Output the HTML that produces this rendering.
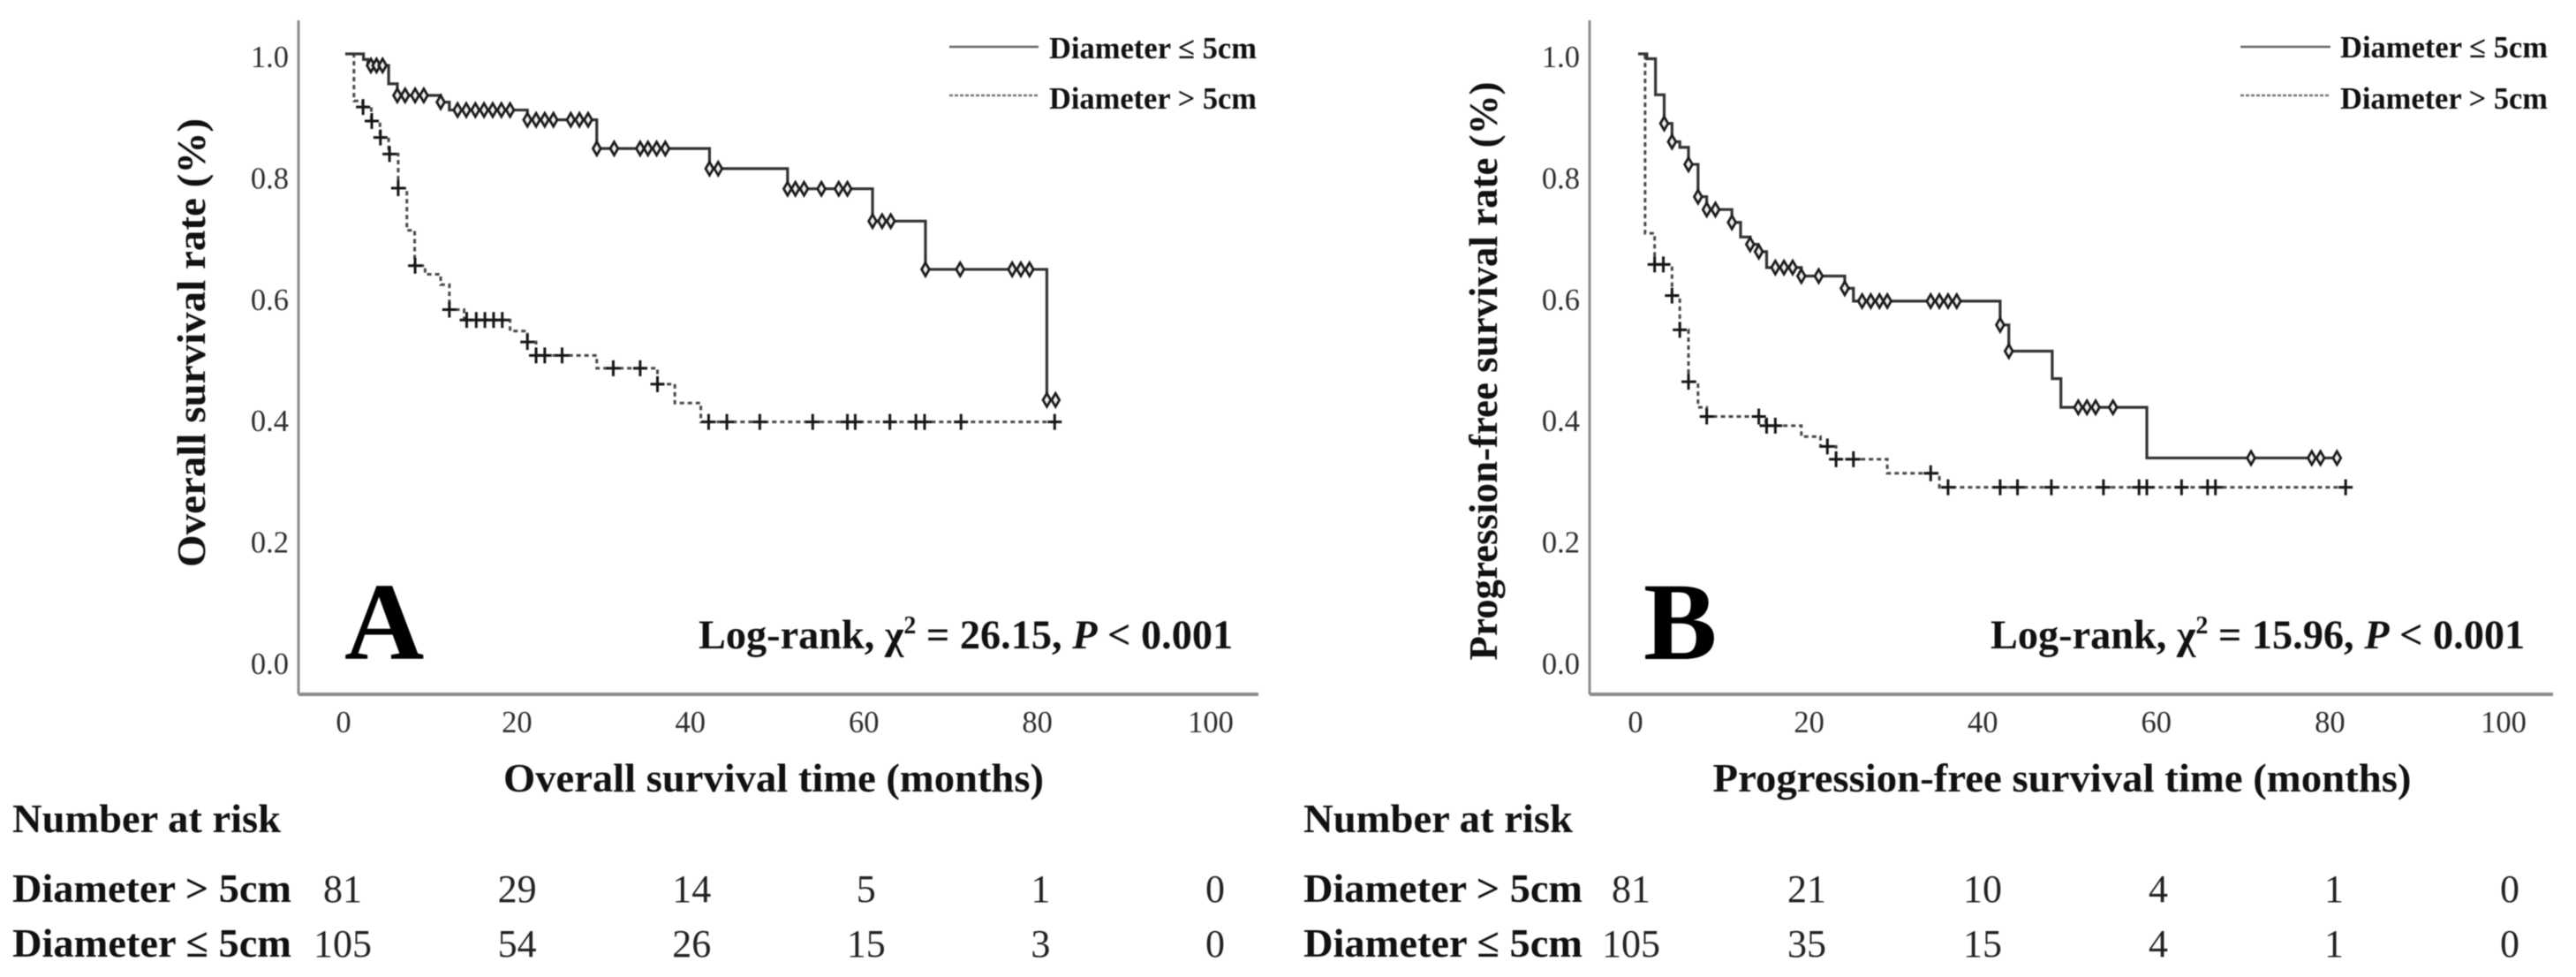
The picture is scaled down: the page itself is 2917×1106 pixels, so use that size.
<!DOCTYPE html>
<html lang="en">
<head>
<meta charset="utf-8">
<title>Survival curves by tumour diameter</title>
<style>
html,body{margin:0;padding:0;background:#fff;}
svg{display:block;filter:blur(0.6px);}
text{font-family:"Liberation Serif","DejaVu Serif",serif;fill:#111;}
.b{font-weight:bold;}
.tick{font-size:34.5px;fill:#2e2e2e;}
.risk{font-size:44px;fill:#222;}
.ytitle,.xtitle{font-size:45px;font-weight:bold;}
.legend{font-size:34.5px;font-weight:bold;}
.risklabel{font-size:46px;font-weight:bold;}
.letter{font-size:125px;font-weight:bold;fill:#000;}
.logrank{font-size:46.3px;font-weight:bold;}
.axis{stroke:#8c8c8c;fill:none;}
</style>
</head>
<body>
<svg id="chart" xmlns="http://www.w3.org/2000/svg" width="2917" height="1106" viewBox="0 0 2917 1106">
  <rect x="0" y="0" width="2917" height="1106" fill="#fff"/>

  <g id="panel-a">
    <line class="axis" x1="338" y1="23" x2="338" y2="786" stroke-width="3"/>
    <line class="axis" x1="338" y1="786" x2="1425" y2="786" stroke-width="4"/>
    <text class="ytitle" transform="translate(232 388) rotate(-90)" text-anchor="middle" textLength="508" lengthAdjust="spacingAndGlyphs">Overall survival rate (%)</text>
    <text class="xtitle" x="876" y="896" text-anchor="middle" textLength="612" lengthAdjust="spacingAndGlyphs">Overall survival time (months)</text>
    <text class="letter" x="390" y="746">A</text>
    <text class="logrank" x="791" y="734">Log-rank, χ<tspan font-size="28" dy="-17">2</tspan><tspan dy="17"> = 26.15, </tspan><tspan font-style="italic">P</tspan> &lt; 0.001</text>
    <line x1="1075" y1="53" x2="1176" y2="53" stroke="#666" stroke-width="2.5"/>
    <text class="legend" x="1188" y="66" textLength="235" lengthAdjust="spacingAndGlyphs">Diameter ≤ 5cm</text>
    <line x1="1075" y1="108" x2="1176" y2="108" stroke="#777" stroke-width="2.5" stroke-dasharray="4 2"/>
    <text class="legend" x="1188" y="123" textLength="235" lengthAdjust="spacingAndGlyphs">Diameter &gt; 5cm</text>
    <text class="risklabel" x="14" y="942" textLength="304" lengthAdjust="spacingAndGlyphs">Number at risk</text>
    <text class="risklabel" x="14" y="1021" textLength="316" lengthAdjust="spacingAndGlyphs">Diameter &gt; 5cm</text>
    <text class="risklabel" x="14" y="1083" textLength="316" lengthAdjust="spacingAndGlyphs">Diameter ≤ 5cm</text>
  </g>

  <g id="panel-b">
    <line class="axis" x1="1800" y1="23" x2="1800" y2="786" stroke-width="3"/>
    <line class="axis" x1="1800" y1="786" x2="2891" y2="786" stroke-width="4"/>
    <text class="ytitle" transform="translate(1695 420) rotate(-90)" text-anchor="middle" textLength="655" lengthAdjust="spacingAndGlyphs">Progression-free survival rate (%)</text>
    <text class="xtitle" x="2335" y="896" text-anchor="middle" textLength="791" lengthAdjust="spacingAndGlyphs">Progression-free survival time (months)</text>
    <text class="letter" x="1861" y="746">B</text>
    <text class="logrank" x="2254" y="734">Log-rank, χ<tspan font-size="28" dy="-17">2</tspan><tspan dy="17"> = 15.96, </tspan><tspan font-style="italic">P</tspan> &lt; 0.001</text>
    <line x1="2537" y1="53" x2="2639" y2="53" stroke="#666" stroke-width="2.5"/>
    <text class="legend" x="2650" y="65" textLength="235" lengthAdjust="spacingAndGlyphs">Diameter ≤ 5cm</text>
    <line x1="2537" y1="108" x2="2639" y2="108" stroke="#777" stroke-width="2.5" stroke-dasharray="4 2"/>
    <text class="legend" x="2650" y="123" textLength="235" lengthAdjust="spacingAndGlyphs">Diameter &gt; 5cm</text>
    <text class="risklabel" x="1476" y="942" textLength="305" lengthAdjust="spacingAndGlyphs">Number at risk</text>
    <text class="risklabel" x="1476" y="1021" textLength="316" lengthAdjust="spacingAndGlyphs">Diameter &gt; 5cm</text>
    <text class="risklabel" x="1476" y="1083" textLength="316" lengthAdjust="spacingAndGlyphs">Diameter ≤ 5cm</text>
  </g>
</svg>

<script>
// Axis tick labels
const xTicks = [0, 20, 40, 60, 80, 100];
const yTicks = [0.0, 0.2, 0.4, 0.6, 0.8, 1.0];

// Panel A - overall survival, Diameter <= 5cm
const aSmallStepTimes = [2.1, 2.6, 5, 6, 11, 12, 21, 29, 42, 51, 60.8, 66.9, 80.9];
const aSmallStepValues = [0.991, 0.981, 0.951, 0.932, 0.921, 0.908, 0.892, 0.845, 0.812, 0.779, 0.726, 0.647, 0.433];
const aSmallCensored = [2.95, 3.6, 4.3, 6, 6.9, 8.05, 9.05, 11, 12.95, 13.95, 15, 16, 17, 18, 19, 21, 22, 23, 24, 26, 27, 28, 29, 31, 34, 34.9, 35.9, 36.9, 42, 43, 51, 51.9, 52.9, 54.9, 56.9, 57.9, 60.8, 61.9, 62.9, 66.9, 70.9, 76.9, 77.9, 78.9, 80.9, 81.9];
const aSmallEnd = 81.9;

// Panel A - overall survival, Diameter > 5cm
const aLargeStepTimes = [1, 2, 3, 4, 5, 6.1, 7.1, 8, 9.2, 11, 12, 13.7, 19, 21, 22, 29, 36, 38, 41];
const aLargeStepValues = [0.923, 0.913, 0.89, 0.863, 0.836, 0.78, 0.711, 0.653, 0.639, 0.622, 0.581, 0.564, 0.546, 0.528, 0.506, 0.485, 0.459, 0.428, 0.397];
const aLargeCensored = [2.05, 3.05, 4.05, 5.1, 6.1, 8.05, 12, 14, 15.1, 16.1, 17.1, 18.1, 21, 22, 23, 25, 30.9, 34, 36, 41.9, 44, 47.8, 53.9, 57.9, 58.8, 62.8, 65.8, 66.8, 71, 81.8];
const aLargeEnd = 81.8;

// Panel A - number at risk
const aRiskLarge = [81, 29, 14, 5, 1, 0];
const aRiskSmall = [105, 54, 26, 15, 3, 0];

// Panel B - progression-free survival, Diameter <= 5cm
const bSmallStepTimes = [1, 2, 3, 3.9, 4.8, 5.8, 6.9, 7.9, 10.8, 11.8, 12.9, 13.8, 14.8, 18.8, 23.8, 24.8, 41.7, 42.7, 47.7, 48.7, 58.6];
const bSmallStepValues = [0.992, 0.933, 0.886, 0.856, 0.847, 0.819, 0.766, 0.745, 0.724, 0.7, 0.688, 0.676, 0.65, 0.636, 0.616, 0.595, 0.556, 0.513, 0.468, 0.421, 0.338];
const bSmallCensored = [3, 3.9, 5.8, 6.9, 7.9, 8.9, 10.8, 12.9, 13.9, 15.8, 16.8, 17.8, 18.8, 20.8, 23.8, 25.8, 26.8, 27.8, 28.7, 33.7, 34.7, 35.7, 36.7, 41.7, 42.7, 50.7, 51.7, 52.7, 54.7, 70.6, 77.6, 78.6, 80.5];
const bSmallEnd = 80.5;

// Panel B - progression-free survival, Diameter > 5cm
const bLargeStepTimes = [0.8, 1.9, 3.9, 4.8, 5.8, 6.9, 7.9, 14.7, 18.8, 21, 22.8, 28.7, 34.7];
const bLargeStepValues = [0.706, 0.655, 0.604, 0.548, 0.463, 0.421, 0.406, 0.391, 0.373, 0.357, 0.336, 0.313, 0.29];
const bLargeCensored = [1.9, 2.9, 3.9, 4.8, 5.8, 7.9, 13.9, 14.8, 15.8, 21.8, 22.8, 24.8, 33.7, 35.7, 41.7, 43.7, 47.6, 53.6, 57.7, 58.6, 62.6, 65.6, 66.5, 81.5];
const bLargeEnd = 81.5;

// Panel B - number at risk
const bRiskLarge = [81, 21, 10, 4, 1, 0];
const bRiskSmall = [105, 35, 15, 4, 1, 0];

const SVGNS = 'http://www.w3.org/2000/svg';
const yScale = function (s) { return 752 - s * 691; };

function shape(parent, tag, attrs) {
  const el = document.createElementNS(SVGNS, tag);
  Object.keys(attrs).forEach(function (k) { el.setAttribute(k, attrs[k]); });
  parent.appendChild(el);
  return el;
}

function survivalAt(t, times, values) {
  let s = 1;
  for (let i = 0; i < times.length; i++) {
    if (t + 0.06 >= times[i]) s = values[i];
  }
  return s;
}

function stepPath(times, values, end, xScale) {
  let d = 'M' + xScale(0) + ' ' + yScale(1);
  for (let i = 0; i < times.length; i++) {
    d += 'H' + xScale(times[i]) + 'V' + yScale(values[i]);
  }
  return d + 'H' + xScale(end);
}

function drawAxes(parent, key, tickX) {
  xTicks.forEach(function (v) {
    const el = shape(parent, 'text', { x: tickX(v), y: 829, 'text-anchor': 'middle', 'class': 'tick' });
    el.textContent = String(v);
    
    
  });
  yTicks.forEach(function (v) {
    const el = shape(parent, 'text', { x: key === 'panel-a' ? 327 : 1789, y: yScale(v) + 11 + 4 * v, 'text-anchor': 'end', 'class': 'tick' });
    el.textContent = v.toFixed(1);
    
    
  });
}

function drawSmallSeries(parent, key, times, values, censored, end, xScale) {
  const g = shape(parent, 'g', {});
  
  
  const curve = shape(g, 'path', { d: stepPath(times, values, end, xScale), fill: 'none', stroke: '#333', 'stroke-width': 3.2 });
  
  
  censored.forEach(function (t) {
    const cx = xScale(t);
    const cy = yScale(survivalAt(t, times, values));
    const pts = [cx, cy - 7.5, cx + 4.4, cy, cx, cy + 7.5, cx - 4.4, cy].join(' ');
    const mark = shape(g, 'polygon', { points: pts, fill: '#eee', stroke: '#1c1c1c', 'stroke-width': 2.8 });
    
    
  });
}

function drawLargeSeries(parent, key, times, values, censored, end, xScale) {
  const g = shape(parent, 'g', {});
  
  
  const curve = shape(g, 'path', { d: stepPath(times, values, end, xScale), fill: 'none', stroke: '#484848', 'stroke-width': 3, 'stroke-dasharray': '5 4' });
  
  
  censored.forEach(function (t) {
    const cx = xScale(t);
    const cy = yScale(survivalAt(t, times, values));
    const d = 'M' + (cx - 8) + ' ' + cy + 'H' + (cx + 8) + 'M' + cx + ' ' + (cy - 9) + 'V' + (cy + 9);
    const mark = shape(g, 'path', { d: d, fill: 'none', stroke: '#161616', 'stroke-width': 3 });
    
    
  });
}

function drawRisk(parent, key, rowName, counts, baseline, riskX) {
  counts.forEach(function (v, i) {
    const el = shape(parent, 'text', { x: riskX(xTicks[i]), y: baseline, 'text-anchor': 'middle', 'class': 'risk' });
    el.textContent = String(v);
    
    
  });
}

const panelA = document.getElementById('panel-a');
const aX = function (t) { return 391 + 9.82 * t; };
const aTickX = function (t) { return 389 + 9.82 * t; };
const aRiskX = function (t) { return 388 + 9.88 * t; };
drawAxes(panelA, 'panel-a', aTickX);
drawLargeSeries(panelA, 'panel-a', aLargeStepTimes, aLargeStepValues, aLargeCensored, aLargeEnd, aX);
drawSmallSeries(panelA, 'panel-a', aSmallStepTimes, aSmallStepValues, aSmallCensored, aSmallEnd, aX);
drawRisk(panelA, 'panel-a', 'large', aRiskLarge, 1021, aRiskX);
drawRisk(panelA, 'panel-a', 'small', aRiskSmall, 1083, aRiskX);

const panelB = document.getElementById('panel-b');
const bX = function (t) { return 1855 + 9.83 * t; };
const bTickX = function (t) { return 1852 + 9.83 * t; };
const bRiskX = function (t) { return 1847 + 9.95 * t; };
drawAxes(panelB, 'panel-b', bTickX);
drawLargeSeries(panelB, 'panel-b', bLargeStepTimes, bLargeStepValues, bLargeCensored, bLargeEnd, bX);
drawSmallSeries(panelB, 'panel-b', bSmallStepTimes, bSmallStepValues, bSmallCensored, bSmallEnd, bX);
drawRisk(panelB, 'panel-b', 'large', bRiskLarge, 1021, bRiskX);
drawRisk(panelB, 'panel-b', 'small', bRiskSmall, 1083, bRiskX);
</script>
</body>
</html>
